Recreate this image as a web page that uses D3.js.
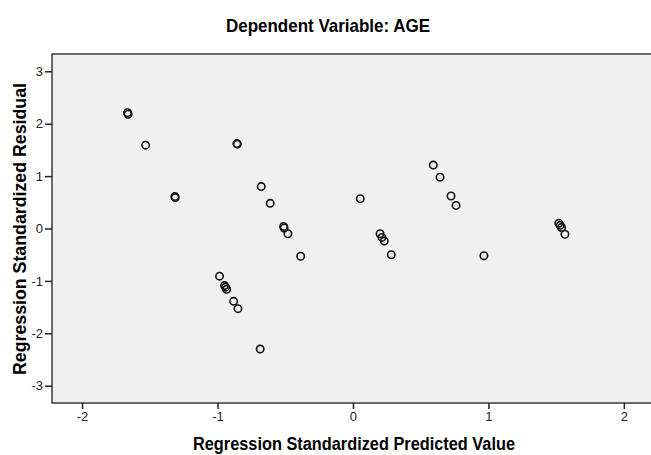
<!DOCTYPE html>
<html>
<head>
<meta charset="utf-8">
<script src="https://cdn.jsdelivr.net/npm/d3@7"></script>
<style>
  body { margin: 0; background: #fff; }
  text { font-family: "Liberation Sans", Arial, sans-serif; }
</style>
</head>
<body>
<div id="chart"></div>
<script>
const width = 651;
const height = 455;

// predicted (x) and residual (y)
const predicted = [-1.664, -1.660, -1.531, -1.315, -1.312, -0.857, -0.854, -0.677, -0.611,
  -0.512, -0.508, -0.480, -0.386, -0.985, -0.948, -0.940, -0.933, -0.881, -0.849, -0.685,
  0.054, 0.200, 0.214, 0.231, 0.283, 0.593, 0.643, 0.724, 0.761, 0.967,
  1.520, 1.530, 1.540, 1.565];
const residual = [2.21, 2.18, 1.59, 0.61, 0.59, 1.62, 1.61, 0.80, 0.48,
  0.04, 0.01, -0.10, -0.53, -0.91, -1.09, -1.12, -1.16, -1.39, -1.53, -2.30,
  0.57, -0.10, -0.17, -0.24, -0.50, 1.21, 0.98, 0.62, 0.44, -0.52,
  0.10, 0.06, 0.02, -0.11];
const xTicks = [-2, -1, 0, 1, 2];
const yTicks = [-3, -2, -1, 0, 1, 2, 3];

const margin = {top: 54, right: -4, bottom: 52, left: 52};
const innerW = width - margin.left - margin.right;
const innerH = height - margin.top - margin.bottom;

let svg = d3.select('#chart').append('svg')
    .attr('width', width)
    .attr('height', height);

let g = svg.append('g')
    .attr('transform', 'translate(' + margin.left + ',' + margin.top + ')');

let x = d3.scaleLinear().domain([-2.222, 2.23]).range([0, innerW]);
let y = d3.scaleLinear().domain([-3.33, 3.33]).range([innerH, 0]);

// plot background + frame
g.append('rect')
    .attr('width', innerW)
    .attr('height', innerH)
    .attr('fill', '#f0f0f0')
    .attr('stroke', '#3a3a3a')
    .attr('stroke-width', 1.5);

// plain hyphen for negatives, like the original
let fmt = d => String(d);

let xAxis = g.append('g')
    .attr('transform', 'translate(0,' + innerH + ')')
    .call(d3.axisBottom(x).tickValues(xTicks).tickSize(6).tickPadding(3).tickFormat(fmt));
let yAxis = g.append('g')
    .call(d3.axisLeft(y).tickValues(yTicks).tickSize(7).tickPadding(2).tickFormat(fmt));

[xAxis, yAxis].forEach(a => {
    a.select('.domain').remove();
    a.selectAll('line').attr('stroke', '#222').attr('stroke-width', 1.5);
    a.selectAll('text')
        .attr('font-family', '"Liberation Sans Narrow", "Liberation Sans", Arial, sans-serif')
        .attr('font-size', 13)
        .attr('fill', '#222');
});

// points
g.selectAll('circle.pt')
    .data(predicted.map((p, i) => [p, residual[i]]))
    .enter().append('circle')
    .attr('class', 'pt')
    .attr('cx', d => x(d[0]))
    .attr('cy', d => y(d[1]))
    .attr('r', 3.7)
    .attr('fill', 'none')
    .attr('stroke', '#111')
    .attr('stroke-width', 1.6);

// titles (squeezed a bit, the original uses a condensed face)
svg.append('text')
    .attr('x', 328)
    .attr('y', 32)
    .attr('text-anchor', 'middle')
    .attr('font-weight', 'bold')
    .attr('font-size', 19)
    .attr('textLength', 204)
    .attr('lengthAdjust', 'spacingAndGlyphs')
    .text('Dependent Variable: AGE');

svg.append('text')
    .attr('x', 354)
    .attr('y', 450)
    .attr('text-anchor', 'middle')
    .attr('font-weight', 'bold')
    .attr('font-size', 18)
    .attr('textLength', 322)
    .attr('lengthAdjust', 'spacingAndGlyphs')
    .text('Regression Standardized Predicted Value');

svg.append('text')
    .attr('transform', 'translate(26,229) rotate(-90)')
    .attr('text-anchor', 'middle')
    .attr('font-weight', 'bold')
    .attr('font-size', 18)
    .attr('textLength', 292)
    .attr('lengthAdjust', 'spacingAndGlyphs')
    .text('Regression Standardized Residual');
</script>
</body>
</html>
